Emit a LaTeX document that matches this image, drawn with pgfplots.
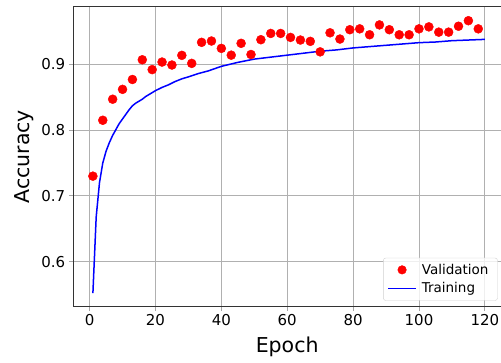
\documentclass[border=0pt]{standalone}
\usepackage{fontspec}
\setmainfont{DejaVu Sans}
\usepackage{pgfplots}
\pgfplotsset{compat=1.18}
\usetikzlibrary{calc}
\begin{document}
\begin{tikzpicture}
\begin{axis}[
  scale only axis, width=427.7pt, height=300pt,
  xmin=-4.95, xmax=124.9, ymin=0.5315, ymax=0.9877,
  xtick={0,20,...,120}, ytick={0.6,0.7,0.8,0.9},
  /pgf/number format/assume math mode=true,
  yticklabel style={/pgf/number format/fixed,/pgf/number format/precision=1,/pgf/number format/fixed zerofill},
  tick label style={font=\fontsize{15}{18}\selectfont},
  xlabel={Epoch}, ylabel={Accuracy},
  label style={font=\fontsize{20.5}{24}\selectfont},
  ylabel style={at={(axis description cs:-0.115,0.5)}, anchor=center},
  xlabel style={at={(axis description cs:0.5,-0.135)}, anchor=center},
  grid=major, major grid style={color=black!31, line width=0.9pt},
  axis y line*=left, axis x line*=box,
  xtick pos=bottom, ytick pos=left,
  tick align=outside, major tick length=4.5pt,
  major tick style={color=black!35, line width=0.9pt},
  axis line style={color=black!80, line width=0.9pt},
  reverse legend,
  legend cell align=left,
  legend style={at={(1,0)}, anchor=south east, xshift=-3.3pt, yshift=6pt,
    draw=black!18, rounded corners=2.5pt, fill=white, fill opacity=0.8, text opacity=1,
    font=\fontsize{13.5}{16}\selectfont, inner xsep=4pt, inner ysep=4pt, row sep=3pt,
    nodes={inner xsep=5pt}},
]
\addplot[blue, line width=1.5pt, mark=none,
  legend image code/.code={\draw[blue, line width=1.5pt, draw opacity=1] (0pt,0pt) -- (28pt,0pt);}]
coordinates {
(1,0.552) (2,0.668) (3,0.720) (4,0.750) (5,0.768) (6,0.781) (7,0.792) (8,0.801)
(9,0.810) (10,0.817) (11,0.824) (12,0.831) (13,0.837) (14,0.841) (15,0.844)
(16,0.847) (17,0.851) (18,0.854) (19,0.857) (20,0.860) (22,0.865) (24,0.869)
(26,0.874) (28,0.878) (30,0.881) (33,0.886) (36,0.890) (40,0.897) (45,0.903)
(50,0.908) (55,0.911) (60,0.914) (65,0.917) (70,0.920) (75,0.922) (80,0.925)
(85,0.927) (90,0.929) (95,0.931) (100,0.933) (105,0.934) (110,0.936) (115,0.937) (120,0.938)
};
\addlegendentry{Training}
\addplot[only marks, mark=*, mark size=4.5pt, color=red, fill=red,
  legend image code/.code={\fill[red, fill opacity=1] (14pt,0pt) circle (4.3pt);}]
coordinates {
(1,0.730) (4,0.815) (7,0.847) (10,0.862) (13,0.877) (16,0.907) (19,0.892)
(22,0.9035) (25,0.899) (28,0.9137) (31,0.9015) (34,0.9335) (37,0.9355) (40,0.9243)
(43,0.914) (46,0.932) (49,0.915) (52,0.9375) (55,0.947) (58,0.947) (61,0.941)
(64,0.937) (67,0.935) (70,0.919) (73,0.948) (76,0.9385) (79,0.9527) (82,0.954)
(85,0.945) (88,0.960) (91,0.9527) (94,0.945) (97,0.945) (100,0.954) (103,0.957)
(106,0.949) (109,0.949) (112,0.958) (115,0.9664) (118,0.954)
};
\addlegendentry{Validation}
\end{axis}
\pgfresetboundingbox
\path[use as bounding box] ($(current axis.south west)+(-73.3pt,-56.3pt)$) rectangle ($(current axis.north east)+(0pt,6.7pt)$);
\end{tikzpicture}
\end{document}
